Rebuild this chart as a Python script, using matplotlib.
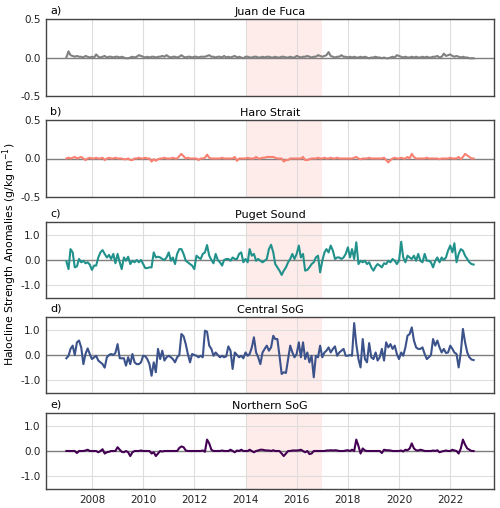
import numpy as np
import pandas as pd
import matplotlib
matplotlib.use("Agg")
import matplotlib.pyplot as plt
import matplotlib.dates as mdates
from matplotlib.ticker import FormatStrFormatter

plt.rcParams['axes.unicode_minus'] = False
plt.rcParams['font.size'] = 7.5

# monthly anomalies, Jan 2007 - Dec 2022 (one row per year)
juan_de_fuca = [
    0.0, 0.08, 0.03, 0.02, 0.01, 0.02, 0.01, 0.01, 0.0, 0.02, 0.01, 0.0,
    0.01, 0.0, 0.04, 0.01, 0.0, 0.01, 0.02, 0.0, 0.01, 0.01, 0.0, 0.01,
    0.01, 0.0, 0.01, 0.0, -0.01, -0.01, 0.0, 0.01, 0.0, 0.01, 0.03, 0.02,
    0.01, 0.0, 0.01, 0.0, 0.01, 0.01, 0.0, 0.01, 0.01, 0.02, 0.01, 0.03,
    0.01, 0.0, 0.01, 0.01, 0.0, 0.01, 0.03, 0.01, 0.0, 0.01, 0.01, 0.0,
    0.01, 0.01, 0.0, 0.01, 0.01, 0.01, 0.02, 0.03, 0.01, 0.01, 0.0, 0.01,
    0.01, 0.0, 0.02, 0.0, 0.01, 0.0, 0.01, 0.02, 0.0, 0.01, 0.0, -0.01,
    0.01, 0.01, 0.0, 0.0, 0.01, 0.01, 0.0, 0.0, 0.01, 0.0, 0.01, 0.01,
    0.0, 0.0, 0.01, 0.0, 0.0, 0.01, 0.01, 0.0, 0.0, 0.01, 0.0, 0.0,
    0.02, 0.01, 0.0, 0.01, 0.01, 0.02, 0.01, 0.0, 0.01, 0.01, 0.03, 0.02,
    0.01, 0.02, 0.03, 0.07, 0.02, 0.01, 0.0, 0.01, 0.01, 0.03, 0.01, 0.01,
    0.0, 0.01, 0.0, 0.01, 0.0, 0.0, 0.01, 0.0, 0.01, 0.0, -0.01, 0.0,
    0.0, 0.01, 0.0, 0.0, -0.01, 0.0, -0.01, -0.01, 0.0, 0.01, 0.0, 0.03,
    0.02, 0.01, 0.0, 0.01, 0.0, 0.0, 0.01, 0.0, 0.01, 0.0, 0.0, 0.01,
    0.0, 0.01, 0.0, 0.0, 0.01, 0.01, 0.02, 0.0, 0.01, 0.05, 0.02, 0.03,
    0.04, 0.02, 0.01, 0.02, 0.01, 0.0, 0.01, 0.0, 0.0, -0.01, -0.01, -0.01,
]

haro_strait = [
    0.0, 0.01, 0.0, 0.01, 0.02, 0.0, 0.01, 0.02, 0.0, -0.02, 0.0, 0.01,
    0.0, 0.0, 0.01, 0.0, 0.0, 0.01, -0.02, 0.0, 0.01, 0.0, 0.0, 0.01,
    0.0, 0.0, 0.0, -0.01, -0.01, 0.0, -0.02, -0.02, 0.0, 0.0, 0.01, 0.0,
    0.0, 0.01, 0.0, 0.0, -0.04, -0.01, -0.03, -0.01, 0.0, 0.0, 0.01, 0.0,
    0.0, 0.0, 0.01, 0.0, 0.0, 0.03, 0.06, 0.03, 0.0, 0.01, 0.0, 0.0,
    0.0, 0.0, -0.02, 0.0, 0.0, 0.01, 0.05, 0.01, 0.0, 0.0, 0.0, 0.0,
    0.0, 0.01, 0.0, 0.0, 0.0, 0.0, 0.0, 0.02, -0.03, 0.0, 0.0, 0.0,
    0.0, 0.01, 0.0, 0.0, 0.0, 0.02, 0.0, 0.0, 0.01, 0.01, 0.02, 0.02,
    0.02, 0.02, 0.01, 0.0, 0.0, 0.0, -0.04, -0.02, -0.02, 0.0, 0.0, 0.0,
    0.0, 0.0, 0.0, 0.02, -0.02, -0.02, -0.01, 0.0, 0.0, 0.0, 0.01, 0.0,
    0.0, 0.01, 0.0, 0.0, 0.01, 0.0, 0.0, 0.01, 0.0, 0.0, 0.0, 0.0,
    0.0, 0.0, 0.0, 0.01, 0.02, 0.0, -0.01, 0.0, 0.0, 0.0, 0.01, 0.0,
    0.0, 0.0, 0.0, 0.0, 0.0, 0.01, -0.02, -0.05, -0.02, 0.0, 0.01, 0.0,
    0.0, 0.01, 0.0, 0.0, 0.02, 0.0, 0.06, 0.02, 0.0, 0.0, 0.0, 0.0,
    0.0, 0.01, 0.0, 0.0, 0.0, 0.0, 0.0, -0.01, 0.0, 0.0, 0.0, 0.0,
    0.01, 0.0, 0.0, 0.0, 0.02, -0.01, 0.02, 0.06, 0.04, 0.02, 0.0, 0.0,
]

puget_sound = [
    -0.05, -0.36, 0.43, 0.3, -0.29, -0.25, 0.04, -0.09, -0.03, -0.13, -0.09, -0.18,
    -0.39, -0.22, -0.22, 0.1, 0.3, 0.39, 0.24, 0.1, 0.2, 0.04, 0.24, -0.13,
    0.24, -0.09, -0.36, 0.1, -0.03, 0.13, -0.16, -0.03, -0.09, 0.0, -0.09, 0.0,
    -0.16, -0.32, -0.32, -0.29, -0.29, 0.3, 0.1, 0.13, 0.1, 0.04, 0.0, 0.1,
    0.3, -0.03, 0.1, -0.16, 0.24, 0.43, 0.43, 0.24, -0.03, -0.09, -0.16, -0.22,
    -0.36, 0.17, 0.1, 0.04, 0.24, 0.3, 0.59, 0.17, 0.0, -0.13, 0.24, 0.0,
    -0.09, -0.22, 0.0, 0.04, 0.04, -0.03, 0.1, 0.04, 0.04, 0.24, 0.3, -0.09,
    0.04, -0.09, 0.43, 0.17, 0.24, -0.03, 0.04, -0.03, -0.09, -0.03, 0.04, 0.43,
    0.6, 0.3, -0.16, -0.29, -0.42, -0.59, -0.42, -0.29, -0.09, 0.04, 0.24, 0.04,
    0.24, 0.57, 0.1, 0.24, -0.42, -0.39, -0.29, -0.16, -0.09, 0.1, 0.17, -0.49,
    -0.03, 0.3, 0.43, 0.3, 0.57, 0.37, 0.04, 0.1, 0.1, 0.04, 0.1, 0.24,
    0.5, 0.1, 0.43, 0.04, 0.7, -0.16, -0.03, -0.09, -0.03, -0.16, -0.09, -0.29,
    -0.42, -0.26, -0.16, -0.22, -0.29, -0.13, -0.16, -0.03, -0.09, 0.04, -0.03, -0.16,
    -0.03, 0.72, 0.1, -0.09, 0.17, 0.1, 0.04, 0.17, -0.03, 0.24, -0.03, -0.09,
    0.24, -0.03, -0.03, -0.09, -0.29, -0.03, 0.1, -0.09, 0.1, 0.0, 0.1, 0.37,
    0.57, 0.3, 0.66, -0.09, 0.24, 0.43, 0.37, 0.17, 0.04, -0.09, -0.16, -0.18,
]

central_sog = [
    -0.13, -0.03, 0.24, 0.37, 0.0, 0.5, 0.57, 0.3, -0.36, 0.04, 0.26, 0.04,
    -0.16, -0.09, -0.03, -0.22, -0.29, -0.36, -0.5, -0.09, 0.0, 0.04, 0.0, 0.08,
    0.43, -0.13, -0.13, -0.13, -0.42, -0.09, -0.36, 0.04, -0.29, -0.36, -0.36, -0.29,
    -0.03, -0.05, -0.16, -0.36, -0.82, -0.29, -0.68, 0.24, -0.16, 0.17, -0.22, -0.09,
    -0.03, -0.09, -0.16, -0.29, -0.09, 0.0, 0.83, 0.74, 0.43, 0.04, -0.29, 0.04,
    0.0, -0.03, -0.09, -0.03, -0.09, 0.96, 0.92, 0.37, 0.24, -0.03, 0.1, 0.0,
    -0.09, -0.03, -0.09, -0.05, 0.34, 0.17, -0.55, 0.1, 0.0, -0.09, -0.03, -0.13,
    0.1, -0.03, 0.04, 0.3, 0.7, 0.1, -0.09, -0.36, 0.1, 0.24, 0.37, 0.17,
    0.3, 0.76, 0.63, 0.63, -0.03, -0.75, -0.68, -0.71, -0.16, 0.37, 0.1, -0.09,
    0.04, 0.5, -0.09, 0.5, -0.16, 0.1, -0.29, -0.03, -0.88, -0.03, -0.09, 0.37,
    -0.09, 0.1, 0.17, 0.3, 0.1, 0.24, 0.34, -0.03, 0.1, 0.17, 0.24, -0.03,
    -0.03, 0.0, -0.03, 1.26, 0.43, -0.16, -0.49, 0.63, -0.16, -0.29, 0.47, -0.09,
    -0.16, 0.1, -0.22, -0.09, 0.24, -0.22, 0.5, 0.3, 0.43, 0.24, 0.37, 0.04,
    -0.16, 0.1, -0.03, 0.3, 0.76, 0.83, 1.09, 0.57, 0.3, 0.24, 0.24, 0.3,
    0.04, -0.16, -0.09, 0.0, 0.63, 0.37, 0.57, 0.3, 0.1, 0.24, 0.08, 0.1,
    0.37, 0.24, 0.1, 0.04, -0.49, 0.1, 1.03, 0.5, 0.1, -0.09, -0.18, -0.2,
]

northern_sog = [
    0.0, 0.0, 0.0, 0.0, 0.0, -0.08, 0.0, 0.0, 0.0, 0.02, 0.05, 0.0,
    0.0, 0.0, 0.0, -0.05, 0.0, 0.07, -0.1, -0.05, -0.03, 0.0, 0.0, 0.0,
    0.15, 0.05, -0.03, -0.05, 0.0, -0.05, -0.2, -0.05, 0.0, 0.0, 0.0, 0.02,
    0.0, 0.0, 0.0, 0.0, -0.1, -0.05, -0.2, -0.1, 0.0, -0.02, 0.0, 0.0,
    0.0, 0.0, 0.0, 0.0, 0.0, 0.12, 0.18, 0.15, 0.02, 0.0, 0.0, 0.0,
    0.0, 0.0, 0.0, 0.0, 0.02, -0.03, 0.45, 0.3, 0.05, 0.0, 0.0, 0.0,
    0.0, 0.02, 0.0, 0.0, 0.0, 0.05, 0.0, -0.05, 0.02, 0.0, 0.05, 0.0,
    0.0, 0.0, 0.05, 0.0, -0.05, 0.0, 0.02, 0.05, 0.05, 0.03, 0.02, 0.02,
    0.0, 0.03, 0.0, 0.0, 0.0, -0.1, -0.2, -0.1, 0.0, 0.0, 0.02, 0.02,
    0.02, 0.03, 0.05, 0.0, -0.05, 0.0, -0.12, -0.1, 0.0, 0.0, 0.0, 0.0,
    0.0, 0.0, 0.02, 0.02, 0.03, 0.02, 0.03, 0.02, 0.0, 0.0, 0.0, 0.02,
    0.03, 0.0, 0.05, 0.0, 0.45, 0.2, -0.1, 0.1, 0.02, 0.0, 0.0, 0.0,
    0.0, 0.0, 0.0, 0.0, -0.08, 0.05, 0.03, 0.03, 0.02, 0.0, 0.0, 0.0,
    0.0, 0.02, -0.02, 0.05, 0.03, 0.1, 0.3, 0.1, 0.03, 0.02, 0.05, 0.03,
    0.0, 0.0, 0.0, 0.0, 0.02, 0.0, 0.03, -0.05, -0.02, 0.0, 0.02, 0.0,
    0.0, 0.05, 0.02, 0.0, -0.1, 0.1, 0.45, 0.25, 0.1, 0.05, 0.0, 0.0,
]

series = [juan_de_fuca, haro_strait, puget_sound, central_sog, northern_sog]
titles = ["Juan de Fuca", "Haro Strait", "Puget Sound", "Central SoG", "Northern SoG"]
letters = ["a)", "b)", "c)", "d)", "e)"]
colors = ["#808080", "salmon", "#21918c", "#3b528b", "#440154"]
ylims = [0.5, 0.5, 1.5, 1.5, 1.5]
yticks = [[-0.5, 0.0, 0.5], [-0.5, 0.0, 0.5], [-1.0, 0.0, 1.0], [-1.0, 0.0, 1.0], [-1.0, 0.0, 1.0]]

dates = pd.date_range("2007-01-01", periods=len(juan_de_fuca), freq="MS")

W, H = 500, 508
fig = plt.figure(figsize=(W / 100, H / 100), dpi=100)

# panel pixel extents (top, bottom)
rows = [(19, 96), (120, 197), (222, 298), (317, 393), (413, 489)]
left, right = 46, 494

for k, (top, bot) in enumerate(rows):
    ax = fig.add_axes([left / W, 1 - bot / H, (right - left) / W, (bot - top) / H])
    ax.axvspan(pd.Timestamp("2014-01-01"), pd.Timestamp("2017-01-01"),
               color="salmon", alpha=0.15, lw=0, zorder=0)
    ax.axhline(0, color="gray", lw=1, zorder=1)
    ax.plot(dates, series[k], color=colors[k], lw=1.5, zorder=2)
    ax.set_ylim(-ylims[k], ylims[k])
    ax.set_yticks(yticks[k])
    ax.yaxis.set_major_formatter(FormatStrFormatter("%.1f"))
    ax.xaxis.set_major_locator(mdates.YearLocator(2))
    ax.xaxis.set_major_formatter(mdates.DateFormatter("%Y"))
    ax.grid(True, color="#dddddd", lw=0.8, zorder=0)
    ax.set_axisbelow(True)
    ax.tick_params(length=0, pad=4, labelsize=7.5, colors="#222222")
    for sp in ax.spines.values():
        sp.set_color("#444444")
        sp.set_linewidth(1)
    ax.set_title(titles[k], fontsize=8, pad=3)
    ax.text(0.01, 1.04, letters[k], transform=ax.transAxes, fontsize=8,
            ha="left", va="bottom")
    if k < 4:
        ax.tick_params(labelbottom=False)

fig.text(0.02, 0.5, "Halocline Strength Anomalies (g/kg m$^{-1}$)",
         rotation=90, va="center", ha="center", fontsize=7.8)

plt.savefig("out.png", dpi=100)
